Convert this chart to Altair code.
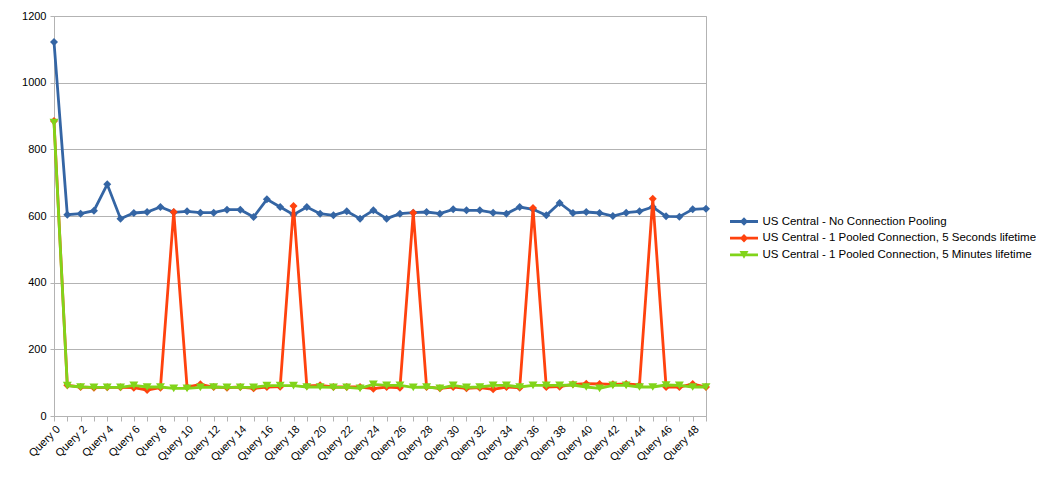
import altair as alt
import pandas as pd

categories = [f"Query {i}" for i in range(50)]

series = [
    "US Central - No Connection Pooling",
    "US Central - 1 Pooled Connection, 5 Seconds lifetime",
    "US Central - 1 Pooled Connection, 5 Minutes lifetime",
]
colors = ["#3465a4", "#ff420e", "#81d41a"]
markers = ["diamond", "diamond", "triangle-down"]

no_pooling = [1122, 604, 607, 616, 695, 592, 609, 612, 627, 611,
              614, 610, 610, 619, 619, 597, 650, 627, 604, 627,
              607, 602, 614, 592, 617, 592, 607, 610, 612, 607,
              620, 617, 617, 610, 607, 627, 620, 602, 639, 609,
              612, 609, 600, 610, 614, 627, 599, 598, 620, 622]
pooled_5s = [885, 92, 87, 85, 86, 86, 85, 78, 85, 612,
             87, 95, 87, 85, 87, 83, 87, 88, 630, 90,
             92, 87, 87, 87, 82, 87, 85, 610, 87, 83,
             87, 83, 85, 80, 87, 85, 624, 87, 88, 95,
             97, 96, 95, 96, 93, 652, 87, 87, 96, 87]
pooled_5m = [880, 91, 87, 86, 86, 86, 92, 87, 87, 83,
             83, 86, 87, 86, 86, 86, 91, 91, 91, 87,
             87, 86, 86, 83, 95, 92, 92, 86, 87, 83,
             92, 86, 87, 92, 92, 87, 92, 92, 92, 93,
             87, 83, 92, 92, 87, 87, 93, 92, 87, 87]

y_ticks = [0, 200, 400, 600, 800, 1000, 1200]

# legend symbols: line with marker, as SVG paths
legend_paths = [
    "M-1,-0.1L1,-0.1L1,0.1L-1,0.1Z M0,-0.3L0.3,0L0,0.3L-0.3,0Z",
    "M-1,-0.1L1,-0.1L1,0.1L-1,0.1Z M0,-0.3L0.3,0L0,0.3L-0.3,0Z",
    "M-1,-0.1L1,-0.1L1,0.1L-1,0.1Z M-0.32,-0.28L0.32,-0.28L0,0.28Z",
]

rows = []
for s, vals in zip(series, [no_pooling, pooled_5s, pooled_5m]):
    for c, v in zip(categories, vals):
        rows.append({"query": c, "value": v, "series": s})
df = pd.DataFrame(rows)

FONT = "Liberation Sans"
color_scale = alt.Scale(domain=series, range=colors)

x_enc = alt.X(
    "query:N",
    sort=categories,
    scale=alt.Scale(type="point", padding=0),
    axis=alt.Axis(
        title=None,
        labelAngle=-45,
        labelExpr="toNumber(replace(datum.value, 'Query ', '')) % 2 == 0 ? datum.value : ''",
        labelOverlap=False,
        labelFont=FONT,
        labelFontSize=11,
        labelColor="#000000",
        labelPadding=2,
        tickColor="#b3b3b3",
        tickSize=5,
        domainColor="#b3b3b3",
        grid=False,
    ),
)
y_enc = alt.Y(
    "value:Q",
    scale=alt.Scale(domain=[0, 1200], nice=False),
    axis=alt.Axis(
        title=None,
        values=y_ticks,
        format="d",
        labelFont=FONT,
        labelFontSize=11,
        labelColor="#000000",
        labelPadding=4,
        tickColor="#b3b3b3",
        tickSize=4,
        domainColor="#b3b3b3",
        gridColor="#b3b3b3",
    ),
)

legend_cfg = dict(
    title=None,
    orient="none",
    legendX=676,
    legendY=198.5,
    padding=0,
    labelFont=FONT,
    labelFontSize=11.5,
    labelColor="#000000",
    labelLimit=500,
    labelOffset=4.5,
    symbolSize=784,
    symbolStrokeWidth=0,
    clipHeight=14,
    rowPadding=2.7,
)

legend_layer = alt.Chart(df).transform_filter("datum.value < 0").mark_point(
    filled=True, opacity=1, size=784
).encode(
    x=x_enc, y=y_enc,
    color=alt.Color("series:N", scale=color_scale, legend=alt.Legend(**legend_cfg)),
    shape=alt.Shape("series:N", scale=alt.Scale(domain=series, range=legend_paths),
                    legend=alt.Legend(**legend_cfg)),
)

layers = [legend_layer]
for s, m in zip(series, markers):
    base = alt.Chart(df).transform_filter(alt.datum.series == s)
    line = base.mark_line(strokeWidth=2.8).encode(
        x=x_enc, y=y_enc,
        color=alt.Color("series:N", scale=color_scale, legend=None),
    )
    pts = base.mark_point(
        shape=m, filled=True, opacity=1,
        size=80 if m == "triangle-down" else 64,
    ).encode(
        x=x_enc, y=y_enc,
        color=alt.Color("series:N", scale=color_scale, legend=None),
    )
    layers += [line, pts]

chart = alt.layer(*layers).properties(
    width=652,
    height=400,
    autosize=alt.AutoSizeParams(type="none"),
    padding={"left": 46, "top": 8, "right": 330, "bottom": 54},
).configure_view(stroke="#b3b3b3")

chart.save("out.html", embed_options={"renderer": "svg", "actions": False})
